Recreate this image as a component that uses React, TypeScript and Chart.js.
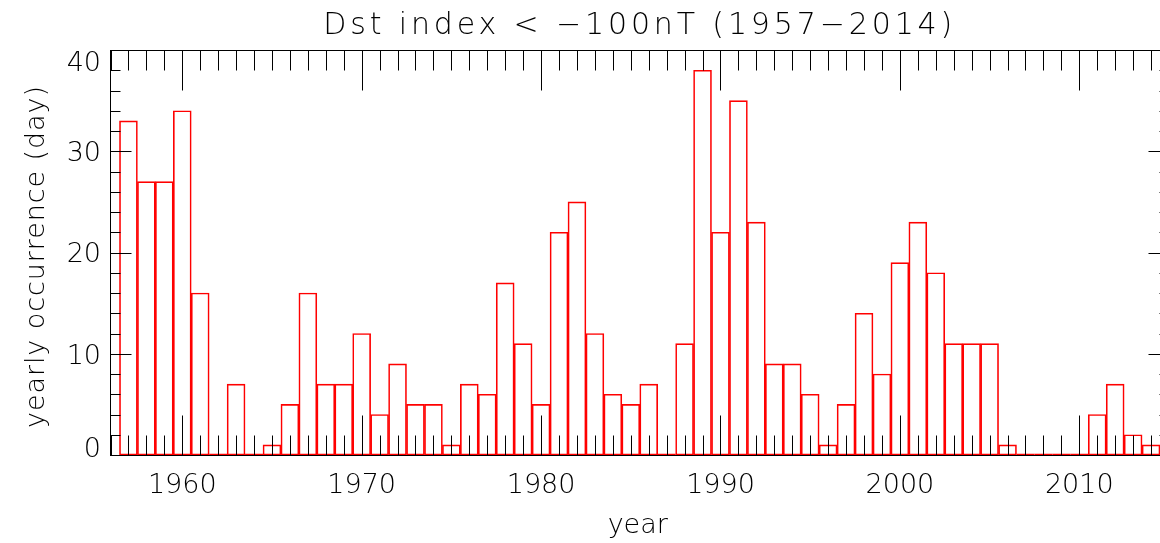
import React, { useEffect, useRef } from 'react';
import { Chart, registerables } from 'chart.js';

Chart.register(...registerables);

const years = [
  1957, 1958, 1959, 1960, 1961, 1962, 1963, 1964, 1965, 1966,
  1967, 1968, 1969, 1970, 1971, 1972, 1973, 1974, 1975, 1976,
  1977, 1978, 1979, 1980, 1981, 1982, 1983, 1984, 1985, 1986,
  1987, 1988, 1989, 1990, 1991, 1992, 1993, 1994, 1995, 1996,
  1997, 1998, 1999, 2000, 2001, 2002, 2003, 2004, 2005, 2006,
  2007, 2008, 2009, 2010, 2011, 2012, 2013, 2014,
];

const stormDays = [
  33, 27, 27, 34, 16, 0, 7, 0, 1, 5,
  16, 7, 7, 12, 4, 9, 5, 5, 1, 7,
  6, 17, 11, 5, 22, 25, 12, 6, 5, 7,
  0, 11, 38, 22, 35, 23, 9, 9, 6, 1,
  5, 14, 8, 19, 23, 18, 11, 11, 11, 1,
  0, 0, 0, 0, 4, 7, 2, 1,
];

const xTickLabels = [1960, 1970, 1980, 1990, 2000, 2010];
const yTickLabels = [0, 10, 20, 30, 40];

const TITLE = 'Dst index < \u2212100nT (1957\u22122014)';
const X_TITLE = 'year';
const Y_TITLE = 'yearly occurrence (day)';

const X_MIN = 1956;
const X_MAX = 2015;
const Y_MIN = 0;
const Y_MAX = 40;

const FONT_FAMILY = '"DejaVu Sans", sans-serif';
const FONT_WEIGHT = '200';
const LABEL_SIZE = 27;

// draws text with letter spacing so that it spans the wanted width
function spacedText(
  ctx: any,
  text: string,
  cx: number,
  baseY: number,
  size: number,
  targetWidth: number,
  rotate: boolean,
) {
  ctx.save();
  ctx.font = `${FONT_WEIGHT} ${size}px ${FONT_FAMILY}`;
  ctx.fillStyle = '#000';
  ctx.textBaseline = 'alphabetic';
  ctx.textAlign = 'left';
  ctx.letterSpacing = '0px';
  const w0 = ctx.measureText(text).width;
  const n = Array.from(text).length;
  const sp = n > 1 ? Math.max(0, (targetWidth - w0) / (n - 1)) : 0;
  ctx.letterSpacing = `${sp}px`;
  const total = w0 + sp * (n - 1);
  if (rotate) {
    ctx.translate(baseY, cx);
    ctx.rotate(-Math.PI / 2);
    ctx.fillText(text, -total / 2, 0);
  } else {
    ctx.fillText(text, cx - total / 2, baseY);
  }
  ctx.restore();
}

const frameTicks = {
  id: 'frameTicks',
  afterDatasetsDraw(chart: any) {
    const { ctx, chartArea: a, scales } = chart;
    const x = scales.x;
    const y = scales.y;
    const left = Math.floor(a.left) + 0.5;
    const right = Math.floor(a.right) + 0.5;
    const top = Math.floor(a.top) + 0.5;
    const bottom = Math.floor(a.bottom) + 0.5;
    const line = (x0: number, y0: number, x1: number, y1: number) => {
      ctx.beginPath();
      ctx.moveTo(x0, y0);
      ctx.lineTo(x1, y1);
      ctx.stroke();
    };
    ctx.save();
    // zero-height histogram boxes: their outline lies on the baseline
    ctx.strokeStyle = '#ff0000';
    ctx.lineWidth = 1.5;
    years.forEach((yr, i) => {
      if (stormDays[i] === 0) {
        const x0 = x.getPixelForValue(yr - 0.5);
        const x1 = x.getPixelForValue(yr + 0.5);
        const yy = y.getPixelForValue(0) - 0.5;
        line(x0, yy, x1, yy);
      }
    });
    ctx.strokeStyle = '#000';
    ctx.lineWidth = 1;
    for (let v = Math.ceil(x.min); v <= x.max; v++) {
      const px = Math.round(x.getPixelForValue(v)) + 0.5;
      const len = v % 10 === 0 ? 40 : 20;
      line(px, bottom, px, bottom - len);
      line(px, top, px, top + len);
    }
    for (let v = y.min; v <= y.max; v += 2) {
      const py = Math.round(y.getPixelForValue(v)) + 0.5;
      const len = v % 10 === 0 ? 21 : 10;
      line(left, py, left + len, py);
      line(right, py, right - len, py);
    }
    ctx.strokeRect(left, top, right - left, bottom - top);
    ctx.restore();
  },
  afterDraw(chart: any) {
    const { ctx, chartArea: a, scales } = chart;
    const y = scales.y;
    // y tick labels, end labels kept inside the frame's height
    ctx.save();
    ctx.font = `${FONT_WEIGHT} ${LABEL_SIZE}px ${FONT_FAMILY}`;
    ctx.fillStyle = '#000';
    ctx.textAlign = 'right';
    ctx.textBaseline = 'alphabetic';
    const capHalf = (LABEL_SIZE * 0.729) / 2;
    yTickLabels.forEach((v) => {
      const py = y.getPixelForValue(v);
      const c = Math.min(Math.max(py, a.top + 11.5), a.bottom - 8);
      ctx.fillText(String(v), a.left - 9.5, c + capHalf);
    });
    ctx.restore();

    const midX = (a.left + a.right) / 2 - 2;
    const midY = (a.top + a.bottom) / 2 + 4.5;
    spacedText(ctx, TITLE, midX, 33.5, 30, 629, false);
    spacedText(ctx, X_TITLE, midX, 533, 27, 58, false);
    spacedText(ctx, Y_TITLE, midY, 43.5, 27, 342, true);
  },
};

export default function App() {
  const canvasRef = useRef<HTMLCanvasElement | null>(null);

  useEffect(() => {
    if (!canvasRef.current) return;
    const font = { family: FONT_FAMILY, size: LABEL_SIZE, weight: FONT_WEIGHT as any };
    const chart = new Chart(canvasRef.current, {
      type: 'bar',
      data: {
        datasets: [
          {
            data: years.map((yr, i) => ({ x: yr, y: stormDays[i] })),
            borderColor: '#ff0000',
            backgroundColor: 'rgba(0,0,0,0)',
            borderWidth: 1,
            borderSkipped: false,
            barPercentage: 1,
            categoryPercentage: 1,
          } as any,
        ],
      },
      options: {
        responsive: false,
        animation: false,
        devicePixelRatio: 1,
        layout: { padding: { left: 0, right: 11, top: 50, bottom: 0 } },
        plugins: {
          legend: { display: false },
          tooltip: { enabled: false },
          title: { display: false },
        },
        scales: {
          x: {
            type: 'linear',
            bounds: 'data',
            min: X_MIN,
            max: X_MAX,
            offset: false,
            grid: { display: false, drawTicks: false, tickLength: 0 },
            border: { display: false },
            afterBuildTicks: (s: any) => {
              s.ticks = xTickLabels.map((v) => ({ value: v }));
              s.min = X_MIN;
              s.max = X_MAX;
            },
            afterFit: (s: any) => {
              s.height = 88;
            },
            ticks: {
              color: '#000',
              font,
              padding: 15,
              maxRotation: 0,
              autoSkip: false,
              callback: (v: any) => String(v),
            },
          },
          y: {
            type: 'linear',
            bounds: 'data',
            min: Y_MIN,
            max: Y_MAX,
            grid: { display: false, drawTicks: false, tickLength: 0 },
            border: { display: false },
            afterBuildTicks: (s: any) => {
              s.ticks = yTickLabels.map((v) => ({ value: v }));
              s.min = Y_MIN;
              s.max = Y_MAX;
            },
            afterFit: (s: any) => {
              s.width = 110.5;
            },
            ticks: { display: false },
          },
        },
      },
      plugins: [frameTicks],
    });
    return () => chart.destroy();
  }, []);

  return (
    <div
      style={{
        position: 'absolute',
        left: 0,
        top: 0,
        width: 1160,
        height: 543,
        overflow: 'hidden',
        background: '#fff',
      }}
    >
      <canvas ref={canvasRef} width={1180} height={543} style={{ display: 'block' }} />
    </div>
  );
}
